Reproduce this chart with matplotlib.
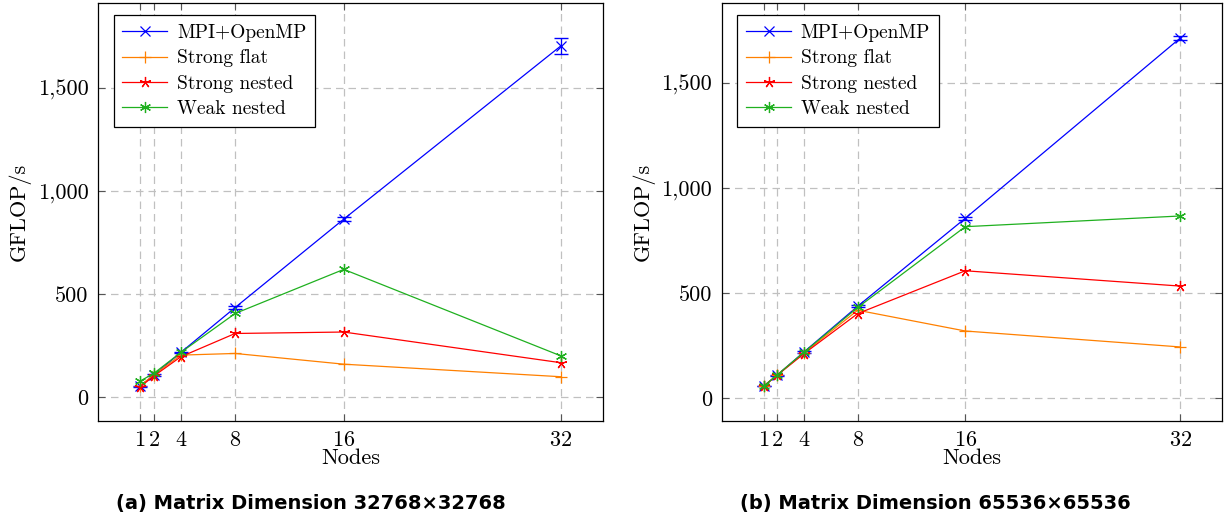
import matplotlib
matplotlib.use("Agg")
import matplotlib.pyplot as plt
from matplotlib.ticker import FuncFormatter

# nodes on the x axis
NODES = [1, 2, 4, 8, 16, 32]
SERIES = ["MPI+OpenMP", "Strong flat", "Strong nested", "Weak nested"]

# (a) 32768 x 32768
A_MPI = [53, 107, 217, 435, 864, 1705]
A_MPI_ERR = [2, 3, 4, 6, 8, 40]
A_FLAT = [55, 108, 204, 212, 160, 99]
A_NESTED = [50, 102, 196, 309, 316, 167]
A_WEAK = [78, 115, 217, 406, 620, 200]

# (b) 65536 x 65536
B_MPI = [55, 108, 218, 436, 855, 1714]
B_MPI_ERR = [1, 2, 3, 4, 6, 8]
B_FLAT = [55, 108, 214, 417, 318, 242]
B_NESTED = [55, 107, 210, 401, 605, 532]
B_WEAK = [55, 108, 217, 430, 815, 866]

CAPTIONS = ["(a) Matrix Dimension 32768\u00d732768",
            "(b) Matrix Dimension 65536\u00d765536"]

COLORS = ["#0000ff", "#ff8000", "#ff0000", "#1fb01f"]
MARKERS = ["x", "+", (5, 2, 0), (6, 2, 0)]
MSIZES = [6.5, 8, 8, 8]

plt.rcParams["font.family"] = "serif"
plt.rcParams["font.serif"] = ["cmr10"]
plt.rcParams["axes.formatter.use_mathtext"] = True
plt.rcParams["mathtext.fontset"] = "cm"

fig = plt.figure(figsize=(12.27, 5.25), dpi=100)
axes = [fig.add_axes([0.0799, 0.198, 0.4116, 0.796]),
        fig.add_axes([0.5884, 0.198, 0.4075, 0.796])]

panels = [
    (A_MPI, A_MPI_ERR, A_FLAT, A_NESTED, A_WEAK, (-116, 1912)),
    (B_MPI, B_MPI_ERR, B_FLAT, B_NESTED, B_WEAK, (-111, 1880)),
]

for ax, (mpi, err, flat, nested, weak, ylim) in zip(axes, panels):
    handles = []
    # error bars first, then the line itself (used for the legend)
    ax.errorbar(NODES, mpi, yerr=err, color=COLORS[0], fmt="none",
                capsize=5, elinewidth=0.9, zorder=3)
    for vals, c, m, ms, lab in zip([mpi, flat, nested, weak], COLORS, MARKERS, MSIZES, SERIES):
        ln, = ax.plot(NODES, vals, color=c, marker=m, markersize=ms, lw=0.9,
                      markeredgewidth=0.9, label=lab, zorder=3)
        handles.append(ln)

    ax.set_xlim(-2.1, 35.1)
    ax.set_ylim(*ylim)
    ax.set_xticks(NODES)
    ax.set_yticks([0, 500, 1000, 1500])
    ax.yaxis.set_major_formatter(FuncFormatter(lambda v, p: f"{int(v):,}"))
    ax.grid(True, color="#c0c0c0", linestyle=(0, (6, 4)), lw=0.9)
    ax.tick_params(direction="in", length=5, width=0.8, color="#555555",
                   top=True, right=True, labelsize=16, pad=7)
    for s in ax.spines.values():
        s.set_linewidth(0.9)
    ax.set_xlabel("Nodes", fontsize=16, labelpad=-1)
    ax.set_ylabel("GFLOP/s", fontsize=16, labelpad=5)

    leg = ax.legend(handles=handles, loc="upper left", bbox_to_anchor=(0.031, 0.971),
                    fontsize=14, frameon=True, fancybox=False, edgecolor="black",
                    framealpha=1, handlelength=2.3, labelspacing=0.38,
                    borderpad=0.45, handletextpad=0.5, borderaxespad=0)
    leg.get_frame().set_linewidth(0.9)

fig.text(0.253, 0.040, CAPTIONS[0], family="DejaVu Sans", weight="bold",
         fontsize=14, ha="center", va="center")
fig.text(0.762, 0.040, CAPTIONS[1], family="DejaVu Sans", weight="bold",
         fontsize=14, ha="center", va="center")

fig.savefig("out.png", dpi=100)
